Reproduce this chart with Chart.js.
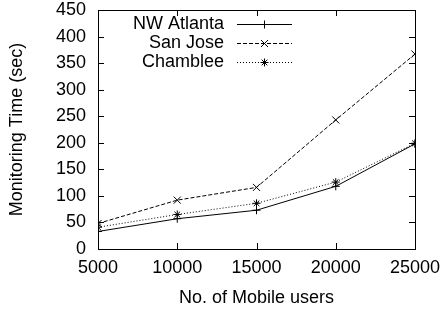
<!DOCTYPE html>
<html>
<head>
<meta charset="utf-8">
<script src="https://cdn.jsdelivr.net/npm/chart.js@4"></script>
<style>
  html, body { margin: 0; padding: 0; background: #fff; }
  #grafico { display: block; }
</style>
</head>
<body>
<canvas id="grafico" width="444" height="312"></canvas>
<script>
// datos
const usuarios = [5000, 10000, 15000, 20000, 25000];
const nwAtlanta = [33, 57, 73, 118, 198];
const sanJose = [48, 92, 116, 243, 367];
const chamblee = [41, 65, 86, 126, 199];
const series = ["NW Atlanta", "San Jose", "Chamblee"];
const yTicks = [0, 50, 100, 150, 200, 250, 300, 350, 400, 450];
const xTicks = [5000, 10000, 15000, 20000, 25000];

const fuente = { family: "'Liberation Sans', Arial, sans-serif", size: 18 };

const puntos = (valores) => usuarios.map((u, i) => ({ x: u, y: valores[i] }));

const estilos = [
    { punto: "cross", radio: 4, dash: [] },
    { punto: "crossRot", radio: 5, dash: [4, 2] },
    { punto: "star", radio: 4, dash: [1, 2] }
];

const datasets = [nwAtlanta, sanJose, chamblee].map((valores, i) => ({
    label: series[i],
    data: puntos(valores),
    borderColor: "#000",
    backgroundColor: "#000",
    borderWidth: 1,
    borderDash: estilos[i].dash,
    pointStyle: estilos[i].punto,
    pointRadius: estilos[i].radio,
    pointBorderWidth: 1,
    pointBorderColor: "#000",
    tension: 0
}));

// ticks hacia dentro, como gnuplot, y la leyenda
const marcoPlugin = {
    id: "marco",
    afterDraw(chart) {
        const ctx = chart.ctx;
        const a = chart.chartArea;
        const xs = chart.scales.x;
        const ys = chart.scales.y;
        ctx.save();
        ctx.strokeStyle = "#000";
        ctx.lineWidth = 1;
        ctx.setLineDash([]);
        ctx.beginPath();
        yTicks.forEach(v => {
            const y = Math.round(ys.getPixelForValue(v)) + 0.5;
            ctx.moveTo(a.left, y); ctx.lineTo(a.left + 6, y);
            ctx.moveTo(a.right, y); ctx.lineTo(a.right - 6, y);
        });
        xTicks.forEach(v => {
            const x = Math.round(xs.getPixelForValue(v)) + 0.5;
            ctx.moveTo(x, a.bottom); ctx.lineTo(x, a.bottom - 6);
            ctx.moveTo(x, a.top); ctx.lineTo(x, a.top + 6);
        });
        ctx.stroke();
        ctx.strokeRect(Math.round(a.left) + 0.5, Math.round(a.top) + 0.5,
            Math.round(a.right - a.left), Math.round(a.bottom - a.top));

        // leyenda
        ctx.font = fuente.size + "px " + fuente.family;
        ctx.textAlign = "right";
        ctx.textBaseline = "middle";
        ctx.fillStyle = "#000";
        series.forEach((nombre, i) => {
            const y = 24 + i * 19;
            ctx.fillText(nombre, 224, y);
            ctx.setLineDash(estilos[i].dash);
            ctx.beginPath();
            ctx.moveTo(237, y + 0.5);
            ctx.lineTo(292, y + 0.5);
            ctx.stroke();
            ctx.setLineDash([]);
            Chart.helpers.drawPoint(ctx, { pointStyle: estilos[i].punto, radius: estilos[i].radio, rotation: 0, borderWidth: 1 }, 264.5, y + 0.5);
        });
        ctx.restore();
    }
};

new Chart(document.getElementById("grafico").getContext("2d"), {
    type: "line",
    data: { datasets: datasets },
    options: {
        responsive: false,
        animation: false,
        layout: { padding: { left: 0, top: 10, right: 29, bottom: 0 } },
        plugins: { legend: { display: false }, tooltip: { enabled: false } },
        scales: {
            x: {
                type: "linear",
                min: 5000,
                max: 25000,
                afterBuildTicks: (scale) => { scale.ticks = xTicks.map(v => ({ value: v })); },
                afterFit: (scale) => {
                    scale.height = 63;
                    scale.paddingLeft = 0;
                    scale.paddingRight = 0;
                },
                grid: { display: false, drawTicks: false },
                border: { display: false },
                ticks: { color: "#000", font: fuente, padding: 8, maxRotation: 0, callback: v => String(v) },
                title: { display: true, text: "No. of Mobile users", color: "#000", font: fuente, padding: { top: 4, bottom: 3 } }
            },
            y: {
                min: 0,
                max: 450,
                afterBuildTicks: (scale) => { scale.ticks = yTicks.map(v => ({ value: v })); },
                afterFit: (scale) => {
                    scale.width = 98;
                    scale.paddingTop = 0;
                    scale.paddingBottom = 0;
                },
                grid: { display: false, drawTicks: false },
                border: { display: false },
                ticks: { color: "#000", font: fuente, padding: 12, callback: v => String(v) },
                title: { display: true, text: "Monitoring Time (sec)", color: "#000", font: fuente, padding: { top: 6, bottom: 4 } }
            }
        }
    },
    plugins: [marcoPlugin]
});
</script>
</body>
</html>
